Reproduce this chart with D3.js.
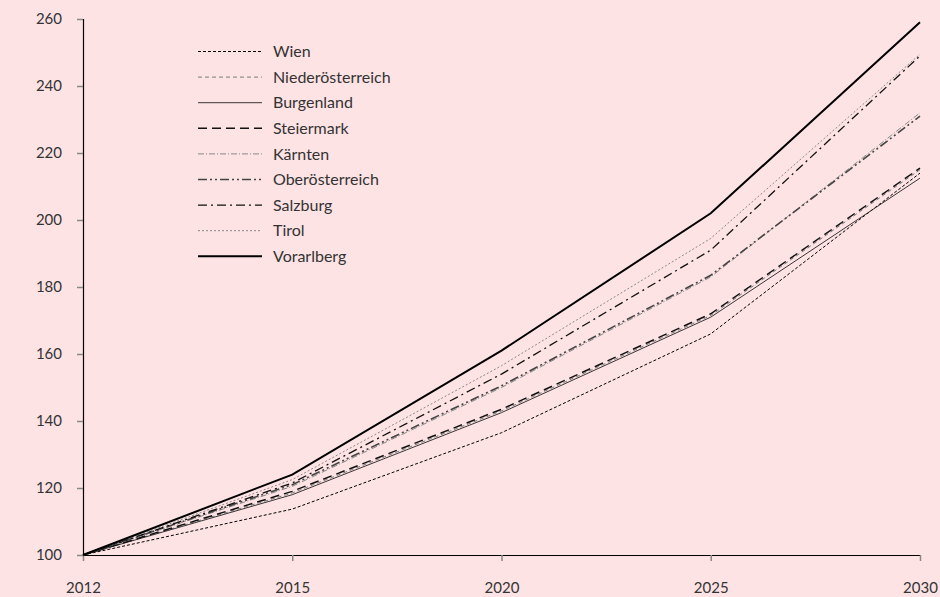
<!DOCTYPE html>
<html>
<head>
<meta charset="utf-8">
<script src="https://cdn.jsdelivr.net/npm/d3@7"></script>
<style>
  body { margin: 0; background: #fee3e5; }
  svg { display: block; }
  text { font-family: Lato, "Open Sans", sans-serif; fill: #333; }
</style>
</head>
<body>
<div id="chart"></div>
<script>
const years = ["2012", "2015", "2020", "2025", "2030"];
const yTicks = [100, 120, 140, 160, 180, 200, 220, 240, 260];

const wien = [100, 113.7, 136.5, 166, 214];
const niederoesterreich = [100, 118.5, 143, 171.5, 215];
const burgenland = [100, 118, 142.5, 171, 212.5];
const steiermark = [100, 119, 143.5, 172, 215.5];
const kaernten = [100, 120.5, 150, 183, 232];
const oberoesterreich = [100, 121, 150.5, 183.5, 231];
const salzburg = [100, 121.5, 154, 191, 249];
const tirol = [100, 122.5, 156.5, 194.5, 249.5];
const vorarlberg = [100, 124, 161, 202, 259];

const width = 940;
const height = 597;

// line styles per region
const series = [
  { name: "Wien", values: wien, color: "#000", w: 1, dash: "3,2" },
  { name: "Niederösterreich", values: niederoesterreich, color: "#7a7a7a", w: 1, dash: "4,3" },
  { name: "Burgenland", values: burgenland, color: "#222", w: 0.9, dash: null },
  { name: "Steiermark", values: steiermark, color: "#111", w: 1.5, dash: "9,5" },
  { name: "Kärnten", values: kaernten, color: "#888", w: 1, dash: "6,2,1,2" },
  { name: "Oberösterreich", values: oberoesterreich, color: "#444", w: 1.6, dash: "9,3,2,3,2,3" },
  { name: "Salzburg", values: salzburg, color: "#111", w: 1.3, dash: "9,4,2,4" },
  { name: "Tirol", values: tirol, color: "#888", w: 1, dash: "2,2" },
  { name: "Vorarlberg", values: vorarlberg, color: "#000", w: 2, dash: null }
];

const svg = d3.select("#chart").append("svg").attr("width", width).attr("height", height);

const x = d3.scalePoint().domain(years).range([83, 920]);
const y = d3.scaleLinear().domain([100, 260]).range([555, 19]);

// y axis
const yAxis = svg.append("g").attr("transform", "translate(83,0)")
  .call(d3.axisLeft(y).tickValues(yTicks).tickSize(6).tickPadding(15));
// x axis
const xAxis = svg.append("g").attr("transform", "translate(0,555)")
  .call(d3.axisBottom(x).tickSize(6).tickPadding(21));

[yAxis, xAxis].forEach((a) => {
  a.select(".domain").attr("stroke", "#000").attr("stroke-width", 1.2);
  a.selectAll(".tick line").attr("stroke", "#888").attr("stroke-width", 1.5);
  a.selectAll(".tick text").style("font-size", "15px").attr("fill", "#333");
});
yAxis.select(".domain").attr("d", "M0.5,19V555.5");
xAxis.select(".domain").attr("d", "M83,0.5H920");

// lines
const line = d3.line().x((d, i) => x(years[i])).y((d) => y(d));
svg.append("g")
  .selectAll("path")
  .data(series)
  .enter()
  .append("path")
  .attr("d", (d) => line(d.values))
  .attr("fill", "none")
  .attr("stroke", (d) => d.color)
  .attr("stroke-width", (d) => d.w)
  .attr("stroke-dasharray", (d) => d.dash);

// legend
const legend = svg.append("g").attr("transform", "translate(198,51.5)");
const item = legend.selectAll("g")
  .data(series)
  .enter()
  .append("g")
  .attr("transform", (d, i) => `translate(0,${i * 25.6})`);
item.append("line")
  .attr("x1", 0).attr("x2", 64)
  .attr("stroke", (d) => d.color)
  .attr("stroke-width", (d) => d.w)
  .attr("stroke-dasharray", (d) => d.dash);
item.append("text")
  .attr("x", 75)
  .attr("dy", "0.35em")
  .style("font-size", "16px")
  .text((d) => d.name);
</script>
</body>
</html>
